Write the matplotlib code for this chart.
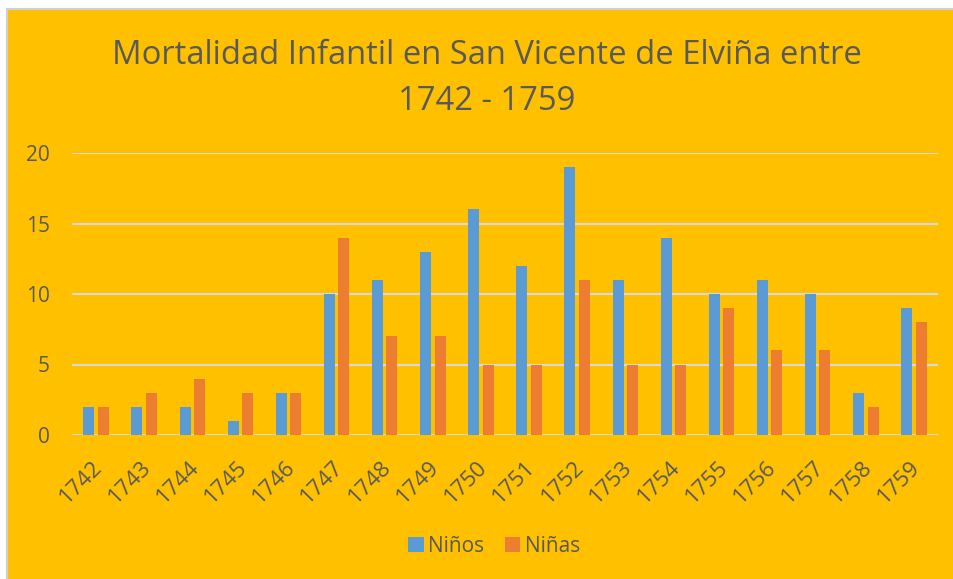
import numpy as np
import matplotlib
matplotlib.use('Agg')
import matplotlib.pyplot as plt
from matplotlib.patches import Rectangle
import matplotlib.transforms as mtransforms

# Datos
years = ['1742', '1743', '1744', '1745', '1746', '1747', '1748', '1749', '1750',
         '1751', '1752', '1753', '1754', '1755', '1756', '1757', '1758', '1759']
ninos = [2, 2, 2, 1, 3, 10, 11, 13, 16, 12, 19, 11, 14, 10, 11, 10, 3, 9]
ninas = [2, 3, 4, 3, 3, 14, 7, 7, 5, 5, 11, 5, 5, 9, 6, 6, 2, 8]

bg = '#FFC000'
txt = '#595959'
grid = '#D9D9D9'

plt.rcParams['font.family'] = ['Open Sans', 'DejaVu Sans']

fig = plt.figure(figsize=(9.54, 5.79), dpi=100)
fig.patch.set_facecolor('white')
# fondo naranja con borde gris
fig.patches.append(Rectangle((7.5 / 954, -0.01), 1.0, 1 - 8.5 / 579 + 0.01,
                             transform=fig.transFigure, facecolor=bg,
                             edgecolor='#D0D0D0', linewidth=1.5, zorder=-10))

ax = fig.add_axes([72 / 954, 1 - 435 / 579, (938 - 72) / 954, (435 - 153) / 579])
ax.patch.set_alpha(0)

x = np.arange(len(years))
w = 0.23
ax.bar(x - w / 2 - 0.035, ninos, width=w, color='#5B9BD5', label='Niños', zorder=3)
ax.bar(x + w / 2 + 0.035, ninas, width=w, color='#ED7D31', label='Niñas', zorder=3)

ax.set_xlim(-0.5, len(years) - 0.5)
ax.set_ylim(0, 20)
ax.set_yticks([0, 5, 10, 15, 20])
ax.set_yticklabels([str(v) for v in [0, 5, 10, 15, 20]], fontsize=15)
ax.yaxis.grid(True, color=grid, linewidth=1.5, zorder=0)
ax.set_axisbelow(True)
for s in ax.spines.values():
    s.set_visible(False)

ax.tick_params(axis='both', length=0, colors=txt)
ax.tick_params(axis='y', pad=16)
ax.set_xticks(x)
ax.set_xticklabels(years, rotation=45, ha='right', va='top', rotation_mode='anchor',
                   fontsize=16)
offset = mtransforms.ScaledTranslation(-4 / 100, -17 / 100, fig.dpi_scale_trans)
for lbl in ax.get_xticklabels():
    lbl.set_transform(lbl.get_transform() + offset)

fig.text(487 / 954, 1 - 55 / 579, 'Mortalidad Infantil en San Vicente de Elviña entre',
         ha='center', va='center', fontsize=23.6, color=txt)
fig.text(487 / 954, 1 - 101 / 579, '1742 - 1759',
         ha='center', va='center', fontsize=23.6, color=txt)

leg = fig.legend(loc='center', bbox_to_anchor=(494 / 954, 1 - 546 / 579), ncol=2,
                 frameon=False, fontsize=15, handlelength=0.75, handleheight=0.75,
                 handletextpad=0.2, columnspacing=1.0)
for t in leg.get_texts():
    t.set_color(txt)

fig.savefig('out.png', dpi=100, facecolor=fig.get_facecolor())
